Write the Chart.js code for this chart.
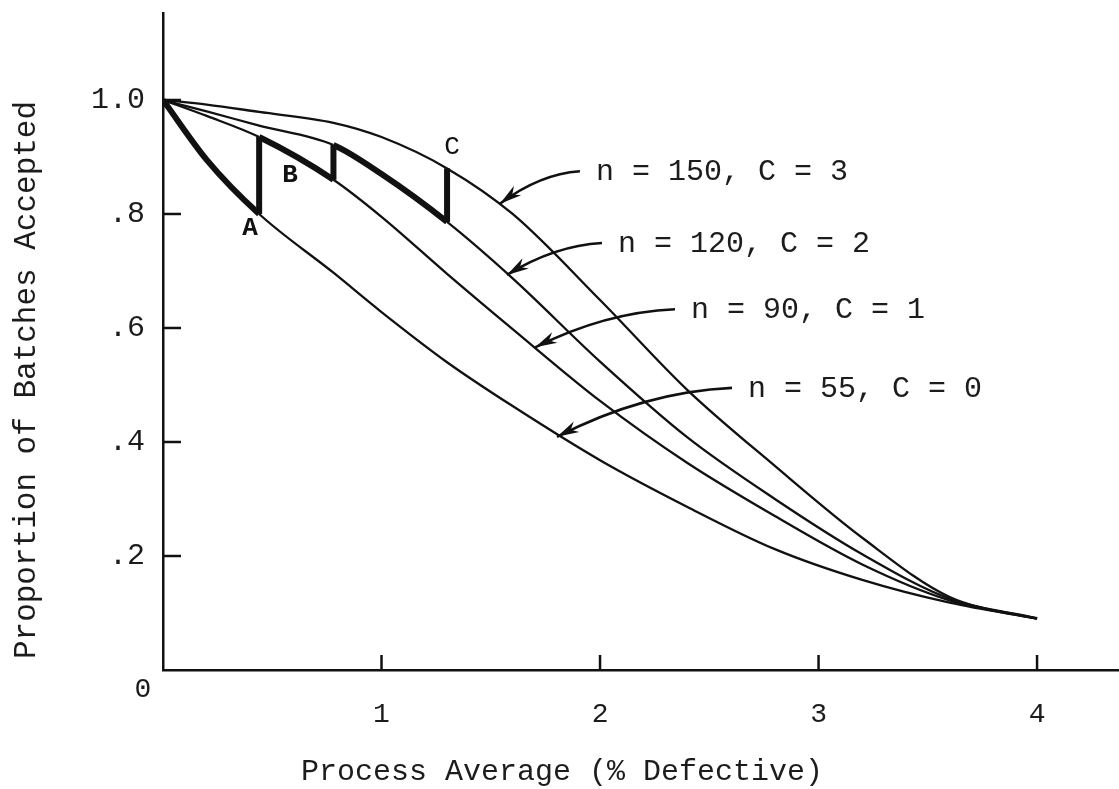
<!DOCTYPE html>
<html>
<head>
<meta charset="utf-8">
<script src="https://cdn.jsdelivr.net/npm/chart.js@4/dist/chart.umd.min.js"></script>
<style>
  html, body { margin: 0; padding: 0; background: #fff; }
  #ocWrap { width: 1119px; height: 789px; }
</style>
</head>
<body>
<div id="ocWrap"><canvas id="ocChart" width="1119" height="789"></canvas></div>
<script>
// process average, % defective
var pct = [0, 0.2, 0.44, 0.78, 1.0, 1.3, 1.6, 2.0, 2.4, 2.8, 3.2, 3.6, 4.0];

// proportion of batches accepted, one list per sampling plan
var n55c0  = [1.0, 0.895, 0.80, 0.697, 0.628, 0.54, 0.463, 0.368, 0.286, 0.212, 0.158, 0.118, 0.09];
var n90c1  = [1.0, 0.972, 0.935, 0.86, 0.795, 0.695, 0.598, 0.472, 0.363, 0.27, 0.185, 0.122, 0.09];
var n120c2 = [1.0, 0.98, 0.955, 0.921, 0.87, 0.786, 0.687, 0.541, 0.408, 0.30, 0.203, 0.125, 0.09];
var n150c3 = [1.0, 0.992, 0.979, 0.96, 0.935, 0.88, 0.80, 0.649, 0.491, 0.358, 0.232, 0.128, 0.091];

var planLabels = ['n = 150, C = 3', 'n = 120, C = 2', 'n = 90, C = 1', 'n = 55, C = 0'];

// where the arrows start (by the label) and where they land on the curves
var arrowTail = [[1.908, 0.875], [2.009, 0.749], [2.343, 0.633], [2.604, 0.495]];
var arrowTip  = [[1.542, 0.818], [1.574, 0.693], [1.703, 0.566], [1.803, 0.409]];

// stepped path: jump points A, B, C (index into pct)
var stepIdx = [2, 3, 5];
var stepLetters = ['A', 'B', 'C'];
var letterPos = [[0.398, 0.775], [0.581, 0.868], [1.323, 0.918]];

var xTickVals = [1, 2, 3, 4];
var xTickLabels = ['1', '2', '3', '4'];
var yTickVals = [0.2, 0.4, 0.6, 0.8, 1.0];
var yTickLabels = ['.2', '.4', '.6', '.8', '1.0'];

var xTitle = 'Process Average (% Defective)';
var yTitle = 'Proportion of Batches Accepted';

var INK = '#111';
var TXT = '#1c1c1c';
var MONO = '"Liberation Mono", "DejaVu Sans Mono", monospace';

function pts(vals) {
    return pct.map(function (p, i) { return { x: p, y: vals[i] }; });
}

// thick segment between two pct indices
function thickBetween(lo, hi) {
    return function (c) {
        return (c.p0DataIndex >= lo && c.p1DataIndex <= hi) ? 6 : 2.3;
    };
}

function curve(vals, lo, hi) {
    return {
        data: pts(vals),
        borderColor: INK,
        borderWidth: 2.3,
        pointRadius: 0,
        cubicInterpolationMode: 'monotone',
        segment: { borderWidth: thickBetween(lo, hi) }
    };
}

function riser(lowVals, highVals, k) {
    var i = stepIdx[k];
    return {
        data: [{ x: pct[i], y: lowVals[i] }, { x: pct[i], y: highVals[i] }],
        borderColor: INK,
        borderWidth: 6,
        borderCapStyle: 'butt',
        pointRadius: 0
    };
}

function noEdgePad(s) {
    s.paddingTop = 0;
    s.paddingBottom = 0;
    s.paddingLeft = 0;
    s.paddingRight = 0;
}

var inkPlugin = {
    id: 'ink',
    afterDraw: function (chart) {
        var ctx = chart.ctx;
        var x = chart.scales.x, y = chart.scales.y;
        ctx.save();

        // inward tick marks
        ctx.strokeStyle = INK;
        ctx.lineWidth = 2.5;
        yTickVals.forEach(function (v) {
            var py = y.getPixelForValue(v);
            ctx.beginPath(); ctx.moveTo(x.left, py); ctx.lineTo(x.left + 18, py); ctx.stroke();
        });
        xTickVals.forEach(function (v) {
            var px = x.getPixelForValue(v);
            ctx.beginPath(); ctx.moveTo(px, y.bottom); ctx.lineTo(px, y.bottom - 15); ctx.stroke();
        });

        // origin label
        ctx.fillStyle = TXT;
        ctx.font = '28px ' + MONO;
        ctx.textAlign = 'center';
        ctx.textBaseline = 'middle';
        ctx.fillText('0', x.getPixelForValue(0) - 20, y.getPixelForValue(0) + 20);

        // axis titles
        ctx.font = '30px ' + MONO;
        ctx.textBaseline = 'alphabetic';
        ctx.fillText(xTitle, 562, 780);
        ctx.save();
        ctx.translate(35, 380);
        ctx.rotate(-Math.PI / 2);
        ctx.font = '31px ' + MONO;
        ctx.fillText(yTitle, 0, 0);
        ctx.restore();

        // curved arrows with labels
        for (var k = 0; k < planLabels.length; k++) {
            var tx = x.getPixelForValue(arrowTail[k][0]), ty = y.getPixelForValue(arrowTail[k][1]);
            var hx = x.getPixelForValue(arrowTip[k][0]),  hy = y.getPixelForValue(arrowTip[k][1]);
            var cx = hx + (tx - hx) * 0.5, cy = ty + (hy - ty) * 0.08;
            ctx.strokeStyle = INK;
            ctx.lineWidth = 2.6;
            ctx.beginPath();
            ctx.moveTo(tx, ty);
            ctx.quadraticCurveTo(cx, cy, hx, hy);
            ctx.stroke();
            // arrow head
            var a = Math.atan2(hy - cy, hx - cx);
            var L = 22, W = 6;
            ctx.beginPath();
            ctx.moveTo(hx, hy);
            ctx.lineTo(hx - L * Math.cos(a) + W * Math.sin(a), hy - L * Math.sin(a) - W * Math.cos(a));
            ctx.lineTo(hx - 0.7 * L * Math.cos(a), hy - 0.7 * L * Math.sin(a));
            ctx.lineTo(hx - L * Math.cos(a) - W * Math.sin(a), hy - L * Math.sin(a) + W * Math.cos(a));
            ctx.closePath();
            ctx.fillStyle = INK;
            ctx.fill();

            ctx.fillStyle = TXT;
            ctx.font = '30px ' + MONO;
            ctx.textAlign = 'left';
            ctx.textBaseline = 'alphabetic';
            ctx.fillText(planLabels[k], tx + 16, ty + 9);
        }

        // A, B, C
        ctx.fillStyle = INK;
        ctx.textAlign = 'center';
        ctx.textBaseline = 'middle';
        for (var j = 0; j < stepLetters.length; j++) {
            ctx.font = (j < 2 ? 'bold ' : '') + '26px ' + MONO;
            ctx.fillText(stepLetters[j], x.getPixelForValue(letterPos[j][0]), y.getPixelForValue(letterPos[j][1]));
        }
        ctx.restore();
    }
};

var canvas = document.getElementById('ocChart');
var ocChart = new Chart(canvas, {
    type: 'line',
    data: {
        datasets: [
            curve(n55c0, 0, 2),
            curve(n90c1, 2, 3),
            curve(n120c2, 3, 5),
            curve(n150c3, -1, -1),
            riser(n55c0, n90c1, 0),
            riser(n90c1, n120c2, 1),
            riser(n120c2, n150c3, 2)
        ]
    },
    options: {
        responsive: false,
        animation: false,
        layout: { padding: { top: 13, right: 0, bottom: 0, left: 0 } },
        plugins: {
            legend: { display: false },
            tooltip: { enabled: false }
        },
        scales: {
            x: {
                type: 'linear',
                min: 0,
                max: 4.375,
                grid: { display: false, drawTicks: false },
                border: { display: true, color: INK, width: 2.5 },
                afterBuildTicks: function (s) { s.ticks = xTickVals.map(function (v) { return { value: v }; }); },
                afterFit: function (s) { s.height = 119; noEdgePad(s); },
                ticks: {
                    padding: 28,
                    maxRotation: 0,
                    color: TXT,
                    font: { family: MONO, size: 28 },
                    callback: function (v, i) { return xTickLabels[i]; }
                },
                title: { display: false }
            },
            y: {
                type: 'linear',
                min: 0,
                max: 1.1526,
                grid: { display: false, drawTicks: false },
                border: { display: true, color: INK, width: 2.5 },
                afterBuildTicks: function (s) { s.ticks = yTickVals.map(function (v) { return { value: v }; }); },
                afterFit: function (s) { s.width = 163; noEdgePad(s); },
                ticks: {
                    padding: 18,
                    color: TXT,
                    font: { family: MONO, size: 30 },
                    callback: function (v, i) { return yTickLabels[i]; }
                },
                title: { display: false }
            }
        }
    },
    plugins: [inkPlugin]
});
</script>
</body>
</html>
